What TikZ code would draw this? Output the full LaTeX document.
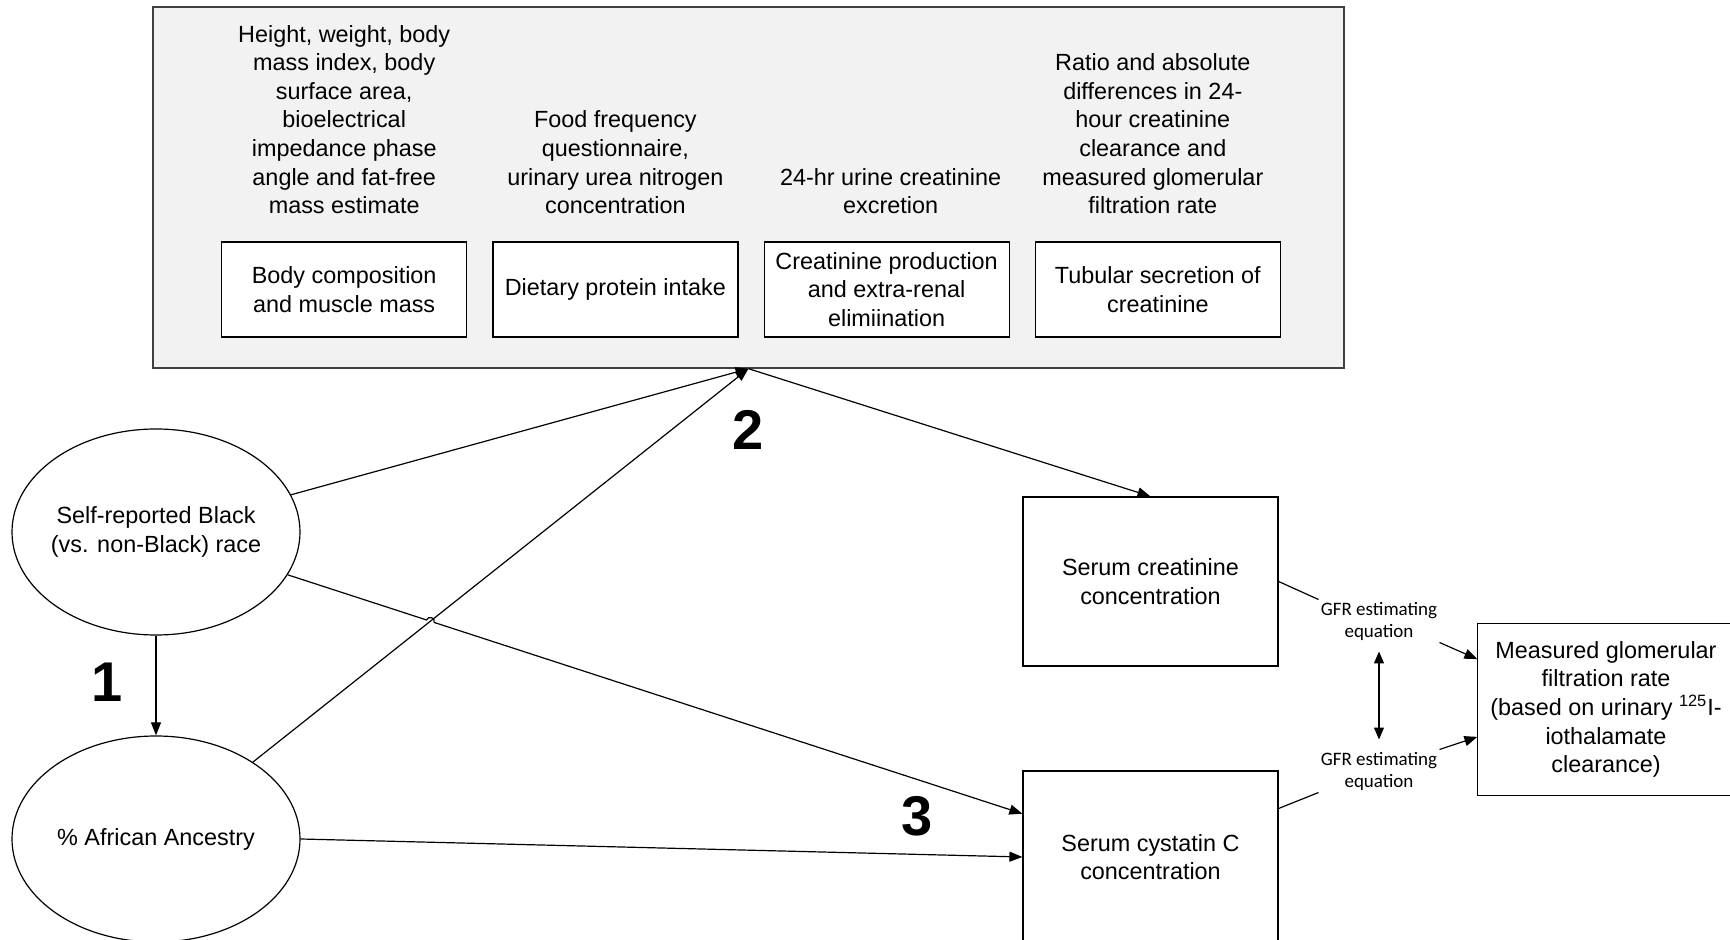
\documentclass[tikz,border=0pt]{standalone}
\usepackage{fontspec}
\setmainfont{Liberation Sans}
\newfontfamily\gfrfont{Carlito}
\usetikzlibrary{arrows.meta, positioning, shapes.geometric, calc, intersections}
\definecolor{panel}{HTML}{F2F2F2}

\begin{document}
\begin{tikzpicture}[
  x=0.5pt, y=-0.5pt,
  font=\fontsize{11.7}{14.3}\selectfont,
  panelbox/.style={draw=black!75, fill=panel, line width=0.7pt, minimum width=595.5pt, minimum height=180.5pt},
  box/.style={rectangle, draw, fill=white, line width=0.6pt, minimum width=122.5pt, minimum height=47.5pt, align=center, inner sep=1pt},
  desc/.style={align=center, inner sep=0pt},
  serum/.style={rectangle, draw, line width=0.6pt, minimum width=127.5pt, minimum height=84.5pt, align=center},
  cause/.style={ellipse, draw, line width=0.6pt, minimum width=144pt, minimum height=103pt, inner xsep=-4pt, inner ysep=0pt, align=center},
  gfr/.style={align=center, inner sep=1pt, font=\gfrfont\fontsize{9.5}{11}\selectfont},
  num/.style={font=\fontsize{28}{30}\selectfont\bfseries},
  link/.style={line width=0.6pt},
  arr/.style={-{Triangle[length=6.5pt, width=5pt]}, line width=0.6pt}
]
\useasboundingbox (0,0) rectangle (1730,940);

% mediators
\node[panelbox] (grp) at (748.5,187.5) {};
\node[box] (bc) at (344.2,289.5) {Body composition\\and muscle mass};
\node[box, right=12.5pt of bc] (dp) {Dietary protein intake};
\node[box, right=12.5pt of dp] (cp) {Creatinine production\\and extra-renal\\elimiination};
\node[box, right=12.5pt of cp] (ts) {Tubular secretion of\\creatinine};

\node[desc, above=13.5pt of bc] (bcm) {Height, weight, body\\mass index, body\\surface area,\\bioelectrical\\impedance phase\\angle and fat-free\\mass estimate};
\node[desc, above=13.5pt of dp] (dpm) {Food frequency\\questionnaire,\\urinary urea nitrogen\\concentration};
\node[desc, above=13.5pt of cp, xshift=2pt] (cpm) {24-hr urine creatinine\\excretion};
\node[desc, above=13.5pt of ts, xshift=-2.5pt] (tsm) {Ratio and absolute\\differences in 24-\\hour creatinine\\clearance and\\measured glomerular\\filtration rate};

% exposures and outcomes
\node[cause] (race) at (156,532) {Self-reported Black\\(vs. non-Black) race};
\node[cause] (anc) at (156,839) {\% African Ancestry};
\node[serum] (scr) at (1150.5,581.5) {Serum creatinine\\concentration};
\node[serum, minimum height=86pt] (cys) at (1150.5,857) {Serum cystatin C\\concentration};
\node[serum, draw=none, minimum width=128pt, minimum height=85pt] (mgfr) at (1606,709.5) {Measured glomerular\\filtration rate\\(based on urinary \textsuperscript{125}I-\\iothalamate\\clearance)};
\draw[link] (mgfr.north east) -- (mgfr.north west) -- (mgfr.south west) -- (mgfr.south east);
\node[gfr] (gfr1) at (1379,621) {GFR estimating\\equation};
\node[gfr] (gfr2) at (1379,771) {GFR estimating\\equation};

\node[num] (n1) at (107,682) {1};
\node[num] (n2) at (748,430) {2};
\node[num] (n3) at (917,816) {3};

\coordinate (cysin) at ($(cys.north west)!0.25!(cys.south west)$);

% paths
\draw[arr] (race) -- (anc);
\draw[arr] (race) -- (grp.south);
\draw[arr, name path=anc2grp] (anc) -- (grp.south);
\draw[arr] (grp.south) -- (scr.north);
\path[name path=race2cys] (race) -- (cysin);
\path[name intersections={of=anc2grp and race2cys, by=hop}];
\draw[arr] (race) -- ($(hop)!2pt!(race)$) to[bend left=90, looseness=1.6] ($(hop)!2pt!(cysin)$) -- (cysin);
\draw[arr] (anc.east) -- (cys.west);

\draw[link] (scr.east) -- (gfr1.north west);
\draw[arr] (gfr1.south east) -- ($(mgfr.north west)!0.206!(mgfr.south west)$);
\draw[link] ($(cys.north east)!0.22!(cys.south east)$) -- (gfr2.south west);
\draw[arr] (gfr2.north east) -- ($(mgfr.north west)!0.66!(mgfr.south west)$);
\draw[{Triangle[length=6pt, width=5pt]}-{Triangle[length=6pt, width=5pt]}, line width=0.6pt, shorten <=4.5pt, shorten >=5pt] (gfr1) -- (gfr2);
\end{tikzpicture}
\end{document}
